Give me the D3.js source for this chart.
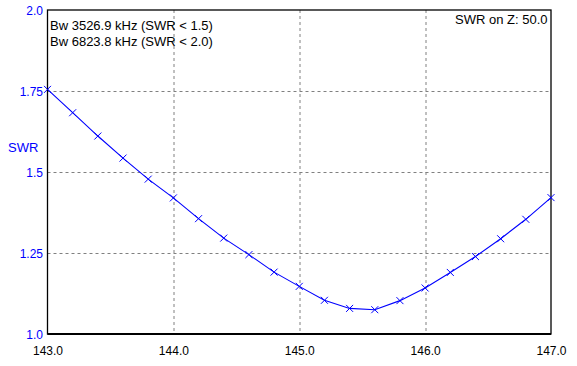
<!DOCTYPE html>
<html>
<head>
<meta charset="utf-8">
<script src="https://cdn.jsdelivr.net/npm/d3@7"></script>
<style>
  body { margin: 0; background: #fff; }
  text { font-family: Arial, "Liberation Sans", sans-serif; }
</style>
</head>
<body>
<div id="chart"></div>
<script>
// frequency in MHz, one sample every 0.2 MHz
var freqs = [143.0, 143.2, 143.4, 143.6, 143.8, 144.0, 144.2, 144.4, 144.6, 144.8,
             145.0, 145.2, 145.4, 145.6, 145.8, 146.0, 146.2, 146.4, 146.6, 146.8, 147.0];
var swr = [1.755, 1.683, 1.611, 1.543, 1.478, 1.420, 1.356, 1.296, 1.245, 1.191,
           1.147, 1.104, 1.079, 1.075, 1.103, 1.142, 1.190, 1.239, 1.294, 1.354, 1.421];
var xTicks = [143, 144, 145, 146, 147];
var yTicks = [1.0, 1.25, 1.5, 1.75, 2.0];
var yTickLabels = ["1.0", "1.25", "1.5", "1.75", "2.0"];
var infoLines = ["Bw 3526.9 kHz (SWR < 1.5)", "Bw 6823.8 kHz (SWR < 2.0)"];
var zLabel = "SWR on Z: 50.0";

var svgWidth = 577;
var svgHeight = 366;
var margin = { top: 10, right: 26, bottom: 32, left: 47.5 };
var width = svgWidth - margin.left - margin.right;
var height = svgHeight - margin.top - margin.bottom;

var svg = d3.select("#chart")
  .append("svg")
  .attr("width", svgWidth)
  .attr("height", svgHeight);

var chartGroup = svg.append("g")
  .attr("transform", `translate(${margin.left}, ${margin.top})`);

var x = d3.scaleLinear().domain([143, 147]).range([0, width]);
var y = d3.scaleLinear().domain([1, 2]).range([height, 0]);

var data = freqs.map((f, i) => ({ f: f, s: swr[i] }));

// dashed grid
chartGroup.selectAll(".vgrid")
  .data(xTicks.slice(1, -1))
  .enter().append("line")
  .attr("x1", d => Math.round(x(d)) + 0.5)
  .attr("x2", d => Math.round(x(d)) + 0.5)
  .attr("y1", 0).attr("y2", height)
  .attr("stroke", "#808080")
  .attr("stroke-dasharray", "3,3");

chartGroup.selectAll(".hgrid")
  .data(yTicks.slice(1, -1))
  .enter().append("line")
  .attr("y1", d => Math.round(y(d)) + 0.5)
  .attr("y2", d => Math.round(y(d)) + 0.5)
  .attr("x1", 0).attr("x2", width)
  .attr("stroke", "#808080")
  .attr("stroke-dasharray", "3,3");

// frame
chartGroup.append("rect")
  .attr("x", 0).attr("y", 0)
  .attr("width", width).attr("height", height)
  .attr("fill", "none")
  .attr("stroke", "#000")
  .attr("stroke-width", 1.3);
chartGroup.append("line")
  .attr("x1", 0).attr("x2", width)
  .attr("y1", height).attr("y2", height)
  .attr("stroke", "#000").attr("stroke-width", 2);

// x axis labels
var bottomAxis = d3.axisBottom(x).tickValues(xTicks).tickFormat(d3.format(".1f")).tickSize(0).tickPadding(0);
var xAxis = chartGroup.append("g")
  .attr("transform", `translate(0, ${height})`)
  .call(bottomAxis);
xAxis.select(".domain").remove();
xAxis.selectAll("text")
  .attr("y", 20.5)
  .attr("dy", 0)
  .attr("fill", "#000")
  .style("font-size", "12px")
  .style("font-family", "Arial, 'Liberation Sans', sans-serif");

// y axis labels
var leftAxis = d3.axisLeft(y).tickValues(yTicks).tickFormat((d, i) => yTickLabels[i]).tickSize(0).tickPadding(4.5);
var yAxis = chartGroup.append("g").call(leftAxis);
yAxis.select(".domain").remove();
yAxis.selectAll("text")
  .attr("fill", "#0000ff")
  .attr("dy", "0.36em")
  .style("font-size", "12px")
  .style("font-family", "Arial, 'Liberation Sans', sans-serif");

svg.append("text")
  .attr("x", 8)
  .attr("y", 152)
  .attr("fill", "#0000ff")
  .style("font-size", "13px")
  .text("SWR");

// SWR curve
var line = d3.line().x(d => x(d.f)).y(d => y(d.s));
chartGroup.append("path")
  .datum(data)
  .attr("d", line)
  .attr("fill", "none")
  .attr("stroke", "#0000ff")
  .attr("stroke-width", 1.1);

// x markers
var m = 3.5;
chartGroup.selectAll(".mark")
  .data(data)
  .enter().append("path")
  .attr("d", d => {
    var cx = x(d.f), cy = y(d.s);
    return `M${cx - m},${cy - m}L${cx + m},${cy + m}M${cx - m},${cy + m}L${cx + m},${cy - m}`;
  })
  .attr("stroke", "#0000ff")
  .attr("stroke-width", 1)
  .attr("fill", "none");

// annotations
svg.selectAll(".info")
  .data(infoLines)
  .enter().append("text")
  .attr("x", 50)
  .attr("y", (d, i) => 29.5 + i * 16)
  .attr("fill", "#000")
  .style("font-size", "13px")
  .text(d => d);

svg.append("text")
  .attr("x", 547.5)
  .attr("y", 23.5)
  .attr("text-anchor", "end")
  .attr("fill", "#000")
  .style("font-size", "13px")
  .text(zLabel);
</script>
</body>
</html>
